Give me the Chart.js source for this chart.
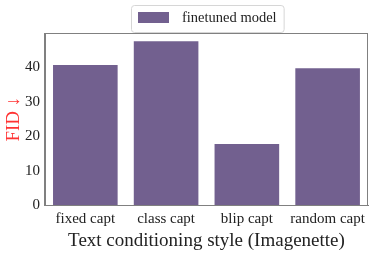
<!DOCTYPE html>
<html><head><meta charset="utf-8">
<script src="https://cdn.jsdelivr.net/npm/chart.js@4/dist/chart.umd.min.js"></script>
<style>html,body{margin:0;padding:0;background:#fff}#wrap{width:374px;height:253px}</style>
</head><body><div id="wrap"><canvas id="c" width="374" height="253"></canvas></div>
<script>
const categories = ["fixed capt", "class capt", "blip capt", "random capt"];
const fidValues = [40.6, 47.5, 17.7, 39.7];
const seriesName = "finetuned model";
const yTicks = [0, 10, 20, 30, 40];
const serif = "'Liberation Serif', 'DejaVu Serif', serif";
const barColor = "rgb(114,96,143)";

const framePlugin = {
  id: 'frame',
  afterDraw(chart) {
    const {ctx, chartArea: a} = chart;
    ctx.save();
    ctx.strokeStyle = '#808080';
    ctx.lineWidth = 1;
    ctx.strokeRect(Math.round(a.left) + 0.5, Math.round(a.top) + 0.5, Math.round(a.right - a.left) - 1, Math.round(a.bottom - a.top));
    // legend
    const ds = chart.data.datasets[0];
    ctx.font = "14.5px " + serif;
    const tw = ctx.measureText(ds.label).width;
    const sw = 31, gap = 13, padL = 7, padR = 7;
    const w = padL + sw + gap + tw + padR, h = 27;
    const cx = (a.left + a.right) / 2 + 1;
    const x = Math.round(cx - w / 2), y = Math.round(a.top - 28);
    ctx.strokeStyle = '#d6d6d6';
    ctx.fillStyle = '#fff';
    ctx.beginPath();
    if (ctx.roundRect) ctx.roundRect(x + 0.5, y + 0.5, w, h, 3); else ctx.rect(x + 0.5, y + 0.5, w, h);
    ctx.fill();
    ctx.stroke();
    ctx.fillStyle = ds.backgroundColor;
    ctx.fillRect(x + padL, y + 7, sw, 11);
    ctx.fillStyle = '#222';
    ctx.textBaseline = 'middle';
    ctx.textAlign = 'left';
    ctx.fillText(ds.label, x + padL + sw + gap, y + h / 2);
    ctx.restore();
  }
};

new Chart(document.getElementById('c'), {
  type: 'bar',
  data: {
    labels: categories,
    datasets: [{
      label: seriesName,
      data: fidValues,
      backgroundColor: barColor,
      borderWidth: 0,
      barPercentage: 0.8,
      categoryPercentage: 1.0
    }]
  },
  options: {
    responsive: false,
    animation: false,
    layout: {padding: {top: 33, right: 6, left: 0, bottom: 0}},
    plugins: {
      legend: {display: false},
      tooltip: {enabled: false}
    },
    scales: {
      x: {
        grid: {display: false, drawTicks: true, tickLength: 4, color: '#555'},
        border: {display: true, color: '#808080'},
        ticks: {font: {family: serif, size: 15}, color: '#222', padding: 1, maxRotation: 0},
        title: {display: true, text: 'Text conditioning style (Imagenette)', font: {family: serif, size: 19}, color: '#222', padding: {top: 0, bottom: 1}}
      },
      y: {
        min: 0,
        max: 49.9,
        afterBuildTicks(scale) { scale.ticks = yTicks.map(v => ({value: v})); },
        grid: {display: false, drawTicks: true, tickLength: 4, color: '#555'},
        border: {display: true, color: '#808080'},
        ticks: {font: {family: serif, size: 15}, color: '#222', padding: 1},
        title: {display: true, text: 'FID \u2193', font: {family: serif, size: 19, lineHeight: 1.05}, color: '#ff3333', padding: {top: 4, bottom: 0}}
      }
    }
  },
  plugins: [framePlugin]
});
</script></body></html>
